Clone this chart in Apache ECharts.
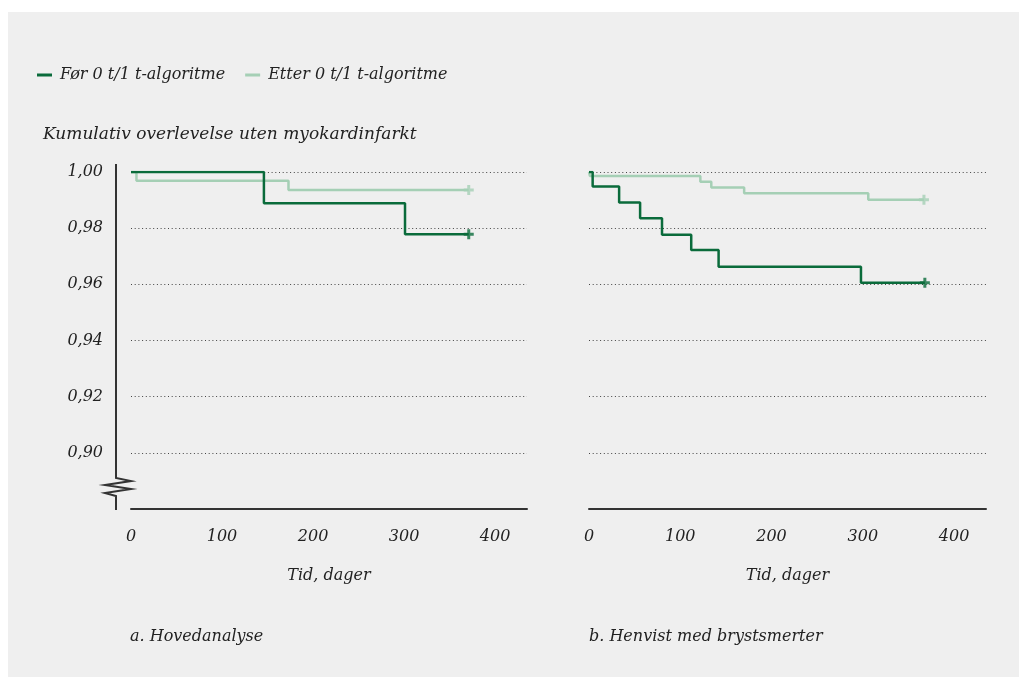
<!DOCTYPE html>
<html>
<head>
<meta charset="utf-8">
<title>Kumulativ overlevelse uten myokardinfarkt</title>
<script src="https://cdn.jsdelivr.net/npm/echarts@6/dist/echarts.min.js"></script>
<style>
html, body { margin: 0; padding: 0; background: #fff; }
#bg { position: absolute; left: 8px; top: 12px; width: 1011px; height: 665px; background: #efefef; }
#chart { position: absolute; left: 0; top: 0; width: 1021px; height: 679px; }
</style>
</head>
<body>
<div id="bg"></div>
<div id="chart"></div>
<script>
// serier (Kaplan-Meier, trinn ved hendelse)
var seriesNames = ['Før 0 t/1 t-algoritme', 'Etter 0 t/1 t-algoritme'];
var hovedFor = [[0, 1.000], [146, 0.9889], [301, 0.9778], [371, 0.9778]];
var hovedEtter = [[0, 1.000], [6, 0.9969], [173, 0.9936], [371, 0.9936]];
var brystFor = [[0, 1.000], [4, 0.9948], [33, 0.9891], [56, 0.9835], [80, 0.9777],
                [112, 0.9722], [142, 0.9663], [298, 0.9606], [368, 0.9606]];
var brystEtter = [[0, 1.000], [1, 0.9986], [122, 0.9965], [134, 0.9945], [170, 0.9924],
                  [306, 0.9901], [367, 0.9901]];
var panelTitles = ['a. Hovedanalyse', 'b. Henvist med brystsmerter'];
var yMin = 0.88, yMax = 1.00, yStep = 0.02;
var xMax = 435, xStep = 100;

var darkGreen = '#0a6b3b';
var lightGreen = '#a5cfb5';
var ink = '#222';
var font = 'DejaVu Serif';
var plus = 'path://M3.5,0h3v3.5h3.5v3h-3.5v3.5h-3v-3.5h-3.5v-3h3.5z';
var axisOffset = 15;

var chart = echarts.init(document.getElementById('chart'));

function lineSeries(name, data, color, idx) {
    return {
        name: name, type: 'line', step: 'end', data: data,
        xAxisIndex: idx, yAxisIndex: idx,
        symbol: 'none', lineStyle: { color: color, width: 2.5 },
        itemStyle: { color: color }, z: color === darkGreen ? 4 : 3
    };
}
function censor(data, color, idx) {
    return {
        name: 'censor', type: 'scatter', data: [data[data.length - 1]],
        xAxisIndex: idx, yAxisIndex: idx,
        symbol: plus, symbolSize: 10, itemStyle: { color: color }, z: 5
    };
}
function xAx(idx) {
    return {
        type: 'value', gridIndex: idx, min: 0, max: xMax, interval: xStep,
        axisLine: { show: true, lineStyle: { color: '#333', width: 2 } },
        axisTick: { show: false }, splitLine: { show: false },
        axisLabel: {
            margin: 20, color: ink, fontFamily: font, fontStyle: 'italic', fontSize: 16,
            formatter: function (v) { return v % xStep === 0 ? String(v) : ''; }
        },
        name: 'Tid, dager', nameLocation: 'middle', nameGap: 59,
        nameTextStyle: { color: ink, fontFamily: font, fontStyle: 'italic', fontSize: 16 }
    };
}
function yAx(idx) {
    return {
        type: 'value', gridIndex: idx, min: yMin, max: yMax, interval: yStep,
        offset: axisOffset,
        axisLine: { show: false }, axisTick: { show: false },
        splitLine: { show: true, lineStyle: { color: '#444', width: 1, type: [1, 2.7] } },
        axisLabel: {
            show: idx === 0, margin: 13, color: ink, fontFamily: font, fontStyle: 'italic', fontSize: 16,
            formatter: function (v) { return v < yMin + 0.005 ? '' : v.toFixed(2).replace('.', ','); }
        }
    };
}

var option = {
    animation: false,
    title: [
        { text: 'Kumulativ overlevelse uten myokardinfarkt', left: 43, top: 126, padding: 0,
          textStyle: { color: ink, fontFamily: font, fontStyle: 'italic', fontWeight: 'normal', fontSize: 17 } },
        { text: panelTitles[0], left: 130, top: 629, padding: 0,
          textStyle: { color: ink, fontFamily: font, fontStyle: 'italic', fontWeight: 'normal', fontSize: 16 } },
        { text: panelTitles[1], left: 589, top: 629, padding: 0,
          textStyle: { color: ink, fontFamily: font, fontStyle: 'italic', fontWeight: 'normal', fontSize: 16 } }
    ],
    legend: {
        data: seriesNames, left: 37, top: 67, icon: 'rect', itemWidth: 15, itemHeight: 3,
        itemGap: 20, padding: 0,
        textStyle: { color: ink, fontFamily: font, fontStyle: 'italic', fontSize: 16, padding: [0, 0, 0, 3] }
    },
    grid: [
        { left: 131, right: 494, top: 172, bottom: 170 },
        { left: 589, right: 35, top: 172, bottom: 170 }
    ],
    xAxis: [xAx(0), xAx(1)],
    yAxis: [yAx(0), yAx(1)],
    series: [
        lineSeries(seriesNames[1], hovedEtter, lightGreen, 0),
        lineSeries(seriesNames[0], hovedFor, darkGreen, 0),
        lineSeries(seriesNames[1], brystEtter, lightGreen, 1),
        lineSeries(seriesNames[0], brystFor, darkGreen, 1),
        censor(hovedEtter, lightGreen, 0),
        censor(hovedFor, darkGreen, 0),
        censor(brystEtter, lightGreen, 1),
        censor(brystFor, darkGreen, 1)
    ]
};
chart.setOption(option);

// y-akse med brudd (venstre panel)
var yTop = chart.convertToPixel({ yAxisIndex: 0 }, yMax);
var yBot = chart.convertToPixel({ yAxisIndex: 0 }, yMin);
var ax = chart.convertToPixel({ xAxisIndex: 0 }, 0) - axisOffset;
chart.setOption({
    graphic: [{
        type: 'polyline', silent: true,
        shape: { points: [
            [ax, yTop - 8], [ax, yBot - 31], [ax + 15, yBot - 28], [ax - 11, yBot - 24],
            [ax + 15, yBot - 20], [ax - 11, yBot - 16], [ax, yBot - 13], [ax, yBot + 1]
        ] },
        style: { stroke: '#333', lineWidth: 2, fill: null }
    }]
});
</script>
</body>
</html>
